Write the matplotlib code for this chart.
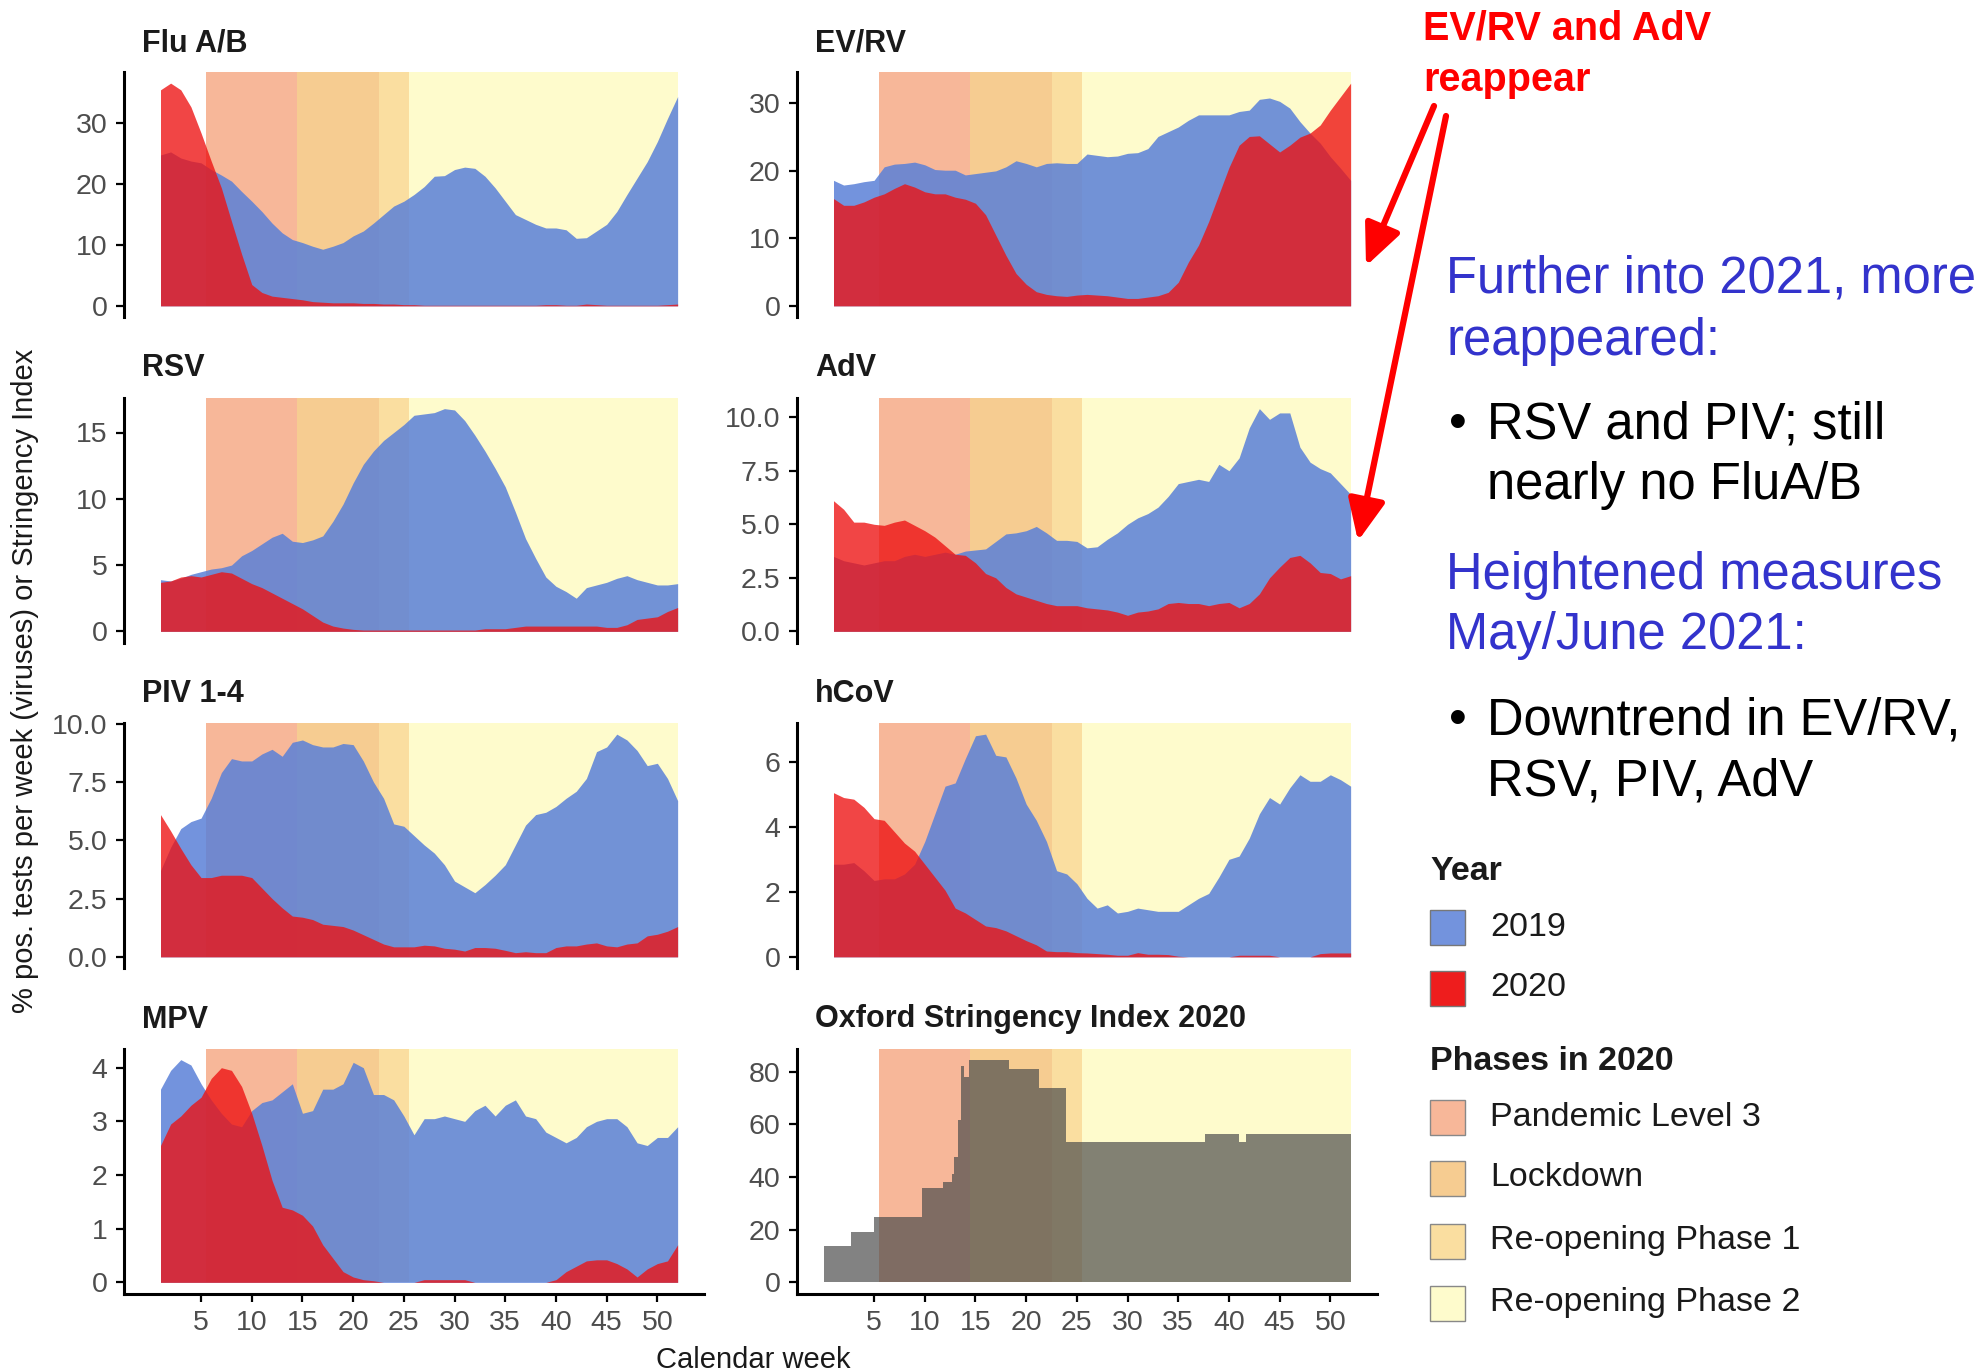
import matplotlib
matplotlib.use("Agg")
import matplotlib.pyplot as plt
from matplotlib.patches import Rectangle
import numpy as np

plt.rcParams['font.family'] = ['Liberation Sans', 'DejaVu Sans']

# Kalenderwochen
weeks = np.arange(1, 53)

# % positive Tests pro Woche, 2019 und 2020
flu_2019 = [24.8, 25.3, 24.3, 23.8, 23.5, 22.4, 21.5, 20.5, 18.8, 17.2, 15.5, 13.6, 12.0, 10.9, 10.4, 9.8, 9.3, 9.8,
            10.4, 11.5, 12.3, 13.6, 15.0, 16.4, 17.2, 18.3, 19.6, 21.3, 21.4, 22.4, 22.8, 22.6, 21.3, 19.4, 17.2, 15.0,
            14.2, 13.4, 12.8, 12.8, 12.5, 11.1, 11.2, 12.3, 13.4, 15.5, 18.3, 21.0, 23.7, 27.0, 30.8, 34.4]
flu_2020 = [35.5, 36.6, 35.5, 32.7, 28.4, 23.8, 19.4, 13.9, 8.5, 3.5, 2.2, 1.6, 1.4, 1.2, 1.0, 0.7, 0.6, 0.5,
            0.5, 0.5, 0.4, 0.4, 0.3, 0.3, 0.2, 0.2, 0.1, 0.1, 0.1, 0.1, 0.1, 0.1, 0.1, 0.1, 0.1, 0.1,
            0.1, 0.1, 0.2, 0.2, 0.1, 0.1, 0.3, 0.2, 0.1, 0.1, 0.1, 0.1, 0.1, 0.1, 0.2, 0.3]

evrv_2019 = [18.6, 17.9, 18.1, 18.4, 18.6, 20.6, 21.0, 21.1, 21.3, 20.9, 20.2, 20.1, 20.1, 19.4, 19.6, 19.8, 20.0, 20.6,
             21.5, 21.1, 20.6, 21.1, 21.2, 21.1, 21.1, 22.5, 22.3, 22.1, 22.2, 22.6, 22.7, 23.3, 25.1, 25.8, 26.5, 27.5,
             28.3, 28.3, 28.3, 28.3, 28.8, 29.0, 30.6, 30.8, 30.3, 29.3, 27.3, 25.6, 24.1, 22.1, 20.4, 18.6]
evrv_2020 = [15.9, 14.9, 14.9, 15.4, 16.1, 16.6, 17.4, 18.1, 17.6, 16.9, 16.6, 16.6, 16.1, 15.8, 15.2, 13.5, 10.5, 7.5,
             4.8, 3.2, 2.1, 1.7, 1.5, 1.4, 1.6, 1.7, 1.6, 1.5, 1.3, 1.1, 1.1, 1.3, 1.5, 2.0, 3.5, 6.5,
             9.0, 12.5, 16.5, 20.5, 23.8, 25.1, 25.2, 24.0, 22.8, 23.8, 25.0, 25.6, 26.8, 29.0, 31.0, 33.0]

rsv_2019 = [3.9, 3.8, 4.0, 4.3, 4.5, 4.7, 4.8, 5.0, 5.7, 6.1, 6.6, 7.1, 7.4, 6.8, 6.7, 6.9, 7.2, 8.3,
            9.6, 11.2, 12.6, 13.6, 14.4, 15.0, 15.6, 16.3, 16.4, 16.5, 16.8, 16.7, 15.9, 14.8, 13.6, 12.3, 10.9, 9.0,
            7.0, 5.5, 4.1, 3.4, 3.0, 2.5, 3.3, 3.5, 3.7, 4.0, 4.2, 3.9, 3.7, 3.5, 3.5, 3.6]
rsv_2020 = [3.7, 3.8, 4.1, 4.2, 4.1, 4.3, 4.5, 4.4, 4.0, 3.6, 3.3, 2.9, 2.5, 2.1, 1.7, 1.2, 0.7, 0.4,
            0.25, 0.15, 0.1, 0.1, 0.1, 0.1, 0.1, 0.1, 0.1, 0.1, 0.1, 0.1, 0.1, 0.1, 0.2, 0.2, 0.2, 0.3,
            0.4, 0.4, 0.4, 0.4, 0.4, 0.4, 0.4, 0.4, 0.3, 0.3, 0.5, 0.9, 1.0, 1.1, 1.5, 1.8]

adv_2019 = [3.5, 3.3, 3.2, 3.1, 3.2, 3.3, 3.3, 3.5, 3.6, 3.5, 3.6, 3.7, 3.6, 3.75, 3.8, 3.85, 4.2, 4.55,
            4.6, 4.7, 4.9, 4.6, 4.25, 4.25, 4.2, 3.9, 3.95, 4.3, 4.6, 5.0, 5.3, 5.5, 5.8, 6.3, 6.9, 7.0,
            7.1, 7.0, 7.8, 7.5, 8.1, 9.5, 10.4, 9.9, 10.2, 10.2, 8.6, 7.9, 7.6, 7.4, 6.9, 6.4]
adv_2020 = [6.1, 5.7, 5.1, 5.1, 5.0, 4.95, 5.1, 5.2, 4.95, 4.7, 4.4, 4.0, 3.6, 3.55, 3.2, 2.7, 2.5, 2.05,
            1.75, 1.6, 1.45, 1.3, 1.2, 1.2, 1.2, 1.1, 1.05, 1.0, 0.9, 0.75, 0.9, 0.95, 1.05, 1.3, 1.35, 1.3,
            1.3, 1.2, 1.3, 1.35, 1.1, 1.3, 1.75, 2.5, 3.0, 3.45, 3.55, 3.2, 2.75, 2.7, 2.45, 2.6]

piv_2019 = [3.7, 4.7, 5.5, 5.8, 5.95, 6.8, 7.9, 8.5, 8.4, 8.4, 8.7, 8.9, 8.6, 9.2, 9.3, 9.1, 9.0, 9.0,
            9.15, 9.1, 8.4, 7.5, 6.8, 5.7, 5.6, 5.2, 4.8, 4.45, 3.95, 3.25, 3.0, 2.75, 3.1, 3.5, 3.95, 4.8,
            5.65, 6.1, 6.2, 6.45, 6.8, 7.1, 7.65, 8.8, 9.0, 9.55, 9.3, 8.85, 8.2, 8.3, 7.65, 6.7]
piv_2020 = [6.1, 5.4, 4.65, 3.95, 3.4, 3.4, 3.5, 3.5, 3.5, 3.4, 2.95, 2.5, 2.1, 1.75, 1.7, 1.6, 1.4, 1.35,
            1.3, 1.15, 0.95, 0.75, 0.55, 0.43, 0.43, 0.43, 0.5, 0.47, 0.37, 0.33, 0.25, 0.4, 0.4, 0.37, 0.28, 0.18,
            0.22, 0.18, 0.18, 0.4, 0.47, 0.47, 0.55, 0.6, 0.47, 0.43, 0.55, 0.6, 0.9, 0.97, 1.1, 1.3]

hcov_2019 = [2.85, 2.85, 2.9, 2.65, 2.35, 2.4, 2.4, 2.55, 2.85, 3.55, 4.4, 5.25, 5.35, 6.1, 6.8, 6.85, 6.2, 6.15,
             5.5, 4.7, 4.2, 3.55, 2.65, 2.55, 2.25, 1.8, 1.5, 1.6, 1.35, 1.4, 1.5, 1.45, 1.4, 1.4, 1.4, 1.6,
             1.8, 1.95, 2.45, 3.0, 3.1, 3.65, 4.4, 4.9, 4.7, 5.2, 5.6, 5.4, 5.4, 5.6, 5.45, 5.25]
hcov_2020 = [5.05, 4.9, 4.85, 4.6, 4.25, 4.2, 3.85, 3.5, 3.25, 2.85, 2.45, 2.05, 1.5, 1.35, 1.15, 0.95, 0.9, 0.8,
             0.65, 0.5, 0.37, 0.18, 0.16, 0.16, 0.13, 0.12, 0.1, 0.08, 0.05, 0.05, 0.13, 0.08, 0.08, 0.07, 0.02, 0.0,
             0.0, 0.0, 0.0, 0.0, 0.05, 0.05, 0.05, 0.05, 0.0, 0.0, 0.0, 0.0, 0.1, 0.12, 0.12, 0.12]

mpv_2019 = [3.6, 3.95, 4.15, 4.05, 3.7, 3.4, 3.15, 2.95, 2.9, 3.2, 3.35, 3.4, 3.55, 3.7, 3.15, 3.2, 3.6, 3.6,
            3.7, 4.1, 4.0, 3.5, 3.5, 3.4, 3.1, 2.75, 3.05, 3.05, 3.1, 3.05, 3.0, 3.2, 3.3, 3.1, 3.3, 3.4,
            3.1, 3.05, 2.8, 2.7, 2.6, 2.7, 2.9, 3.0, 3.05, 3.05, 2.9, 2.6, 2.55, 2.7, 2.7, 2.9]
mpv_2020 = [2.55, 2.95, 3.1, 3.3, 3.45, 3.8, 4.0, 3.95, 3.65, 3.15, 2.55, 1.9, 1.4, 1.35, 1.25, 1.05, 0.7, 0.45,
            0.2, 0.1, 0.05, 0.03, 0.0, 0.0, 0.0, 0.0, 0.05, 0.05, 0.05, 0.05, 0.05, 0.0, 0.0, 0.0, 0.0, 0.0,
            0.0, 0.0, 0.0, 0.05, 0.2, 0.3, 0.4, 0.42, 0.42, 0.35, 0.25, 0.1, 0.25, 0.35, 0.4, 0.7]

# Oxford Stringency Index 2020 (Stufen: Woche ab der der Wert gilt)
oxford_week = [0.1, 2.7, 5.0, 9.75, 11.8, 12.7, 12.9, 13.3, 13.6, 13.85, 14.4, 18.3, 21.3, 23.9, 37.6, 41.0, 41.7, 52.0]
oxford_index = [14, 19, 24.7, 36, 38, 41, 47.6, 61.5, 82, 78, 84.6, 81.2, 74, 53.3, 56.2, 53.3, 56.2, 56.2]

# Phasen 2020
phase_names = ["Pandemic Level 3", "Lockdown", "Re-opening Phase 1", "Re-opening Phase 2"]
phase_start = [5.5, 14.5, 22.5, 25.5]
phase_end = [14.5, 22.5, 25.5, 52.0]
phase_colors = ["#F7B799", "#F6CC91", "#FADEA0", "#FEFBCC"]

year_labels = ["2019", "2020"]
year_colors = ["#5A80D8", "#EE1111"]
year_alpha = [0.85, 0.78]

panels = [
    ("Flu A/B", flu_2019, flu_2020, [0, 10, 20, 30], "{:.0f}"),
    ("EV/RV", evrv_2019, evrv_2020, [0, 10, 20, 30], "{:.0f}"),
    ("RSV", rsv_2019, rsv_2020, [0, 5, 10, 15], "{:.0f}"),
    ("AdV", adv_2019, adv_2020, [0, 2.5, 5, 7.5, 10], "{:.1f}"),
    ("PIV 1-4", piv_2019, piv_2020, [0, 2.5, 5, 7.5, 10], "{:.1f}"),
    ("hCoV", hcov_2019, hcov_2020, [0, 2, 4, 6], "{:.0f}"),
    ("MPV", mpv_2019, mpv_2020, [0, 1, 2, 3, 4], "{:.0f}"),
]

W, H = 1984, 1372
fig = plt.figure(figsize=(W / 100, H / 100), dpi=100)

col_left = [124, 797]
col_width = 580
row_top = [72, 397.5, 723, 1048.5]
row_height = 245
TICK_SIZE = 20.5
TITLE_SIZE = 22


def make_axes(i):
    r, c = divmod(i, 2)
    ax = fig.add_axes([col_left[c] / W, 1 - (row_top[r] + row_height) / H, col_width / W, row_height / H])
    ax.set_xlim(-2.6, 54.6)
    for s in ["top", "right"]:
        ax.spines[s].set_visible(False)
    ax.spines["left"].set_linewidth(2.2)
    ax.spines["bottom"].set_linewidth(2.2)
    ax.tick_params(axis="y", length=6, width=1.6, labelsize=TICK_SIZE, labelcolor="#4D4D4D", pad=6)
    if r == 3:
        ax.set_xticks(range(5, 51, 5))
        ax.tick_params(axis="x", length=6, width=1.6, labelsize=TICK_SIZE, labelcolor="#4D4D4D", pad=6)
    else:
        ax.spines["bottom"].set_visible(False)
        ax.tick_params(axis="x", bottom=False, labelbottom=False)
    ax.set_facecolor("none")
    return ax


def draw_phases(ax):
    for s, e, col in zip(phase_start, phase_end, phase_colors):
        ax.axvspan(s, e, ymin=0.05 / 1.10, ymax=1, color=col, lw=0, zorder=0)


for i, (title, v19, v20, ticks, fmt) in enumerate(panels):
    ax = make_axes(i)
    top = max(max(v19), max(v20))
    ax.set_ylim(-0.05 * top, 1.05 * top)
    draw_phases(ax)
    ax.fill_between(weeks, 0, v19, color=year_colors[0], alpha=year_alpha[0], lw=0, zorder=1)
    ax.fill_between(weeks, 0, v20, color=year_colors[1], alpha=year_alpha[1], lw=0, zorder=2)
    ax.set_yticks(ticks)
    ax.set_yticklabels([fmt.format(t) for t in ticks])
    ax.text(0.031, 1 + 29 / row_height, title, transform=ax.transAxes, fontsize=TITLE_SIZE,
            fontweight="bold", va="center", ha="left", color="#1A1A1A")

# Oxford Stringency Index
ax = make_axes(7)
top = max(oxford_index)
ax.set_ylim(-0.05 * top, 1.05 * top)
draw_phases(ax)
ax.fill_between(oxford_week, 0, oxford_index, step="post", color="#4D4D4D", alpha=0.7, lw=0, zorder=1)
ax.set_yticks([0, 20, 40, 60, 80])
ax.text(0.031, 1 + 29 / row_height, "Oxford Stringency Index 2020", transform=ax.transAxes, fontsize=TITLE_SIZE,
        fontweight="bold", va="center", ha="left", color="#1A1A1A")

# Overlay in Pixelkoordinaten
ov = fig.add_axes([0, 0, 1, 1])
ov.set_xlim(0, W)
ov.set_ylim(H, 0)
ov.axis("off")
ov.patch.set_alpha(0)

ov.text(25, 681, "% pos. tests per week (viruses) or Stringency Index", rotation=90,
        fontsize=21, ha="center", va="center", color="#1A1A1A")
ov.text(753, 1360, "Calendar week", fontsize=21, ha="center", va="center", color="#1A1A1A")

# Legende
ov.text(1430, 872, "Year", fontsize=24.5, fontweight="bold", va="center", ha="left", color="#1A1A1A")
for lab, col, a, y in zip(year_labels, year_colors, [0.85, 0.95], [927, 988]):
    ov.add_patch(Rectangle((1430, y - 17.5), 35, 35, facecolor=col, alpha=a, edgecolor="none"))
    ov.add_patch(Rectangle((1430, y - 17.5), 35, 35, facecolor="none", edgecolor="#777777", lw=1))
    ov.text(1490, y, lab, fontsize=24.5, va="center", ha="left", color="#1A1A1A")
ov.text(1430, 1061, "Phases in 2020", fontsize=24.5, fontweight="bold", va="center", ha="left", color="#1A1A1A")
for lab, col, y in zip(phase_names, phase_colors, [1117, 1178, 1241, 1303]):
    ov.add_patch(Rectangle((1430, y - 17.5), 35, 35, facecolor=col, edgecolor="#888888", lw=1))
    ov.text(1490, y, lab, fontsize=24.5, va="center", ha="left", color="#1A1A1A")

# Anmerkungen
ov.text(1423, 29, "EV/RV and AdV", fontsize=28.5, fontweight="bold", color="#FF0000", va="center", ha="left")
ov.text(1423, 80, "reappear", fontsize=28.5, fontweight="bold", color="#FF0000", va="center", ha="left")
blue = "#3333CC"
ov.text(1446, 279, "Further into 2021, more", fontsize=36.5, color=blue, va="center", ha="left")
ov.text(1446, 341, "reappeared:", fontsize=36.5, color=blue, va="center", ha="left")
ov.text(1449, 425, "\u2022", fontsize=36.5, color="black", va="center", ha="left")
ov.text(1487, 425, "RSV and PIV; still", fontsize=36.5, color="black", va="center", ha="left")
ov.text(1487, 486, "nearly no FluA/B", fontsize=36.5, color="black", va="center", ha="left")
ov.text(1446, 575, "Heightened measures", fontsize=36.5, color=blue, va="center", ha="left")
ov.text(1446, 635, "May/June 2021:", fontsize=36.5, color=blue, va="center", ha="left")
ov.text(1449, 721, "\u2022", fontsize=36.5, color="black", va="center", ha="left")
ov.text(1487, 721, "Downtrend in EV/RV,", fontsize=36.5, color="black", va="center", ha="left")
ov.text(1487, 782, "RSV, PIV, AdV", fontsize=36.5, color="black", va="center", ha="left")

arrow = dict(arrowstyle="-|>,head_length=1.0,head_width=0.45", color="#FF0000", lw=4.5,
             mutation_scale=25, shrinkA=0, shrinkB=0)
ov.annotate("", xy=(1366, 266), xytext=(1434, 106), arrowprops=arrow)
ov.annotate("", xy=(1358, 541), xytext=(1446, 116), arrowprops=arrow)

plt.savefig("out.png", dpi=100)
plt.close()
